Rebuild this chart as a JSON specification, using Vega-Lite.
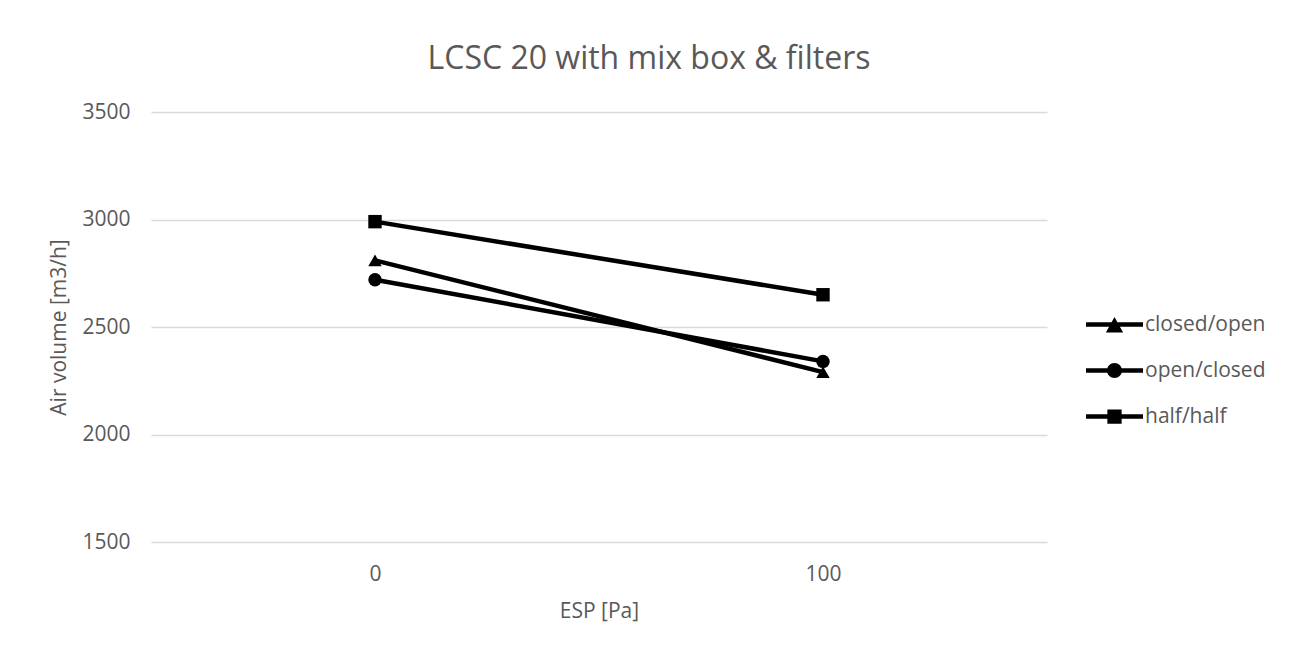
{
  "$schema": "https://vega.github.io/schema/vega-lite/v6.json",
  "width": 896,
  "height": 430,
  "autosize": {"type": "none"},
  "padding": {"left": 151, "top": 112, "right": 251, "bottom": 114},
  "background": "white",
  "title": {
    "text": "LCSC 20 with mix box & filters",
    "font": "Open Sans",
    "fontSize": 32,
    "fontWeight": "normal",
    "color": "#595959",
    "anchor": "middle",
    "frame": "group",
    "dx": 50,
    "offset": 25
  },
  "config": {"view": {"stroke": null}, "font": "Open Sans"},
  "data": {
    "values": [
      {"series": "closed/open", "esp": 0, "air": 2810},
      {"series": "closed/open", "esp": 100, "air": 2290},
      {"series": "open/closed", "esp": 0, "air": 2720},
      {"series": "open/closed", "esp": 100, "air": 2340},
      {"series": "half/half", "esp": 0, "air": 2990},
      {"series": "half/half", "esp": 100, "air": 2650}
    ]
  },
  "encoding": {
    "x": {
      "field": "esp",
      "type": "ordinal",
      "title": "ESP [Pa]",
      "scale": {"type": "point", "padding": 0.5},
      "axis": {
        "domain": false,
        "ticks": false,
        "grid": false,
        "labelAngle": 0,
        "labelFont": "Open Sans",
        "labelFontSize": 21,
        "labelColor": "#595959",
        "labelPadding": 21,
        "titleFont": "Open Sans",
        "titleFontSize": 21,
        "titleColor": "#595959",
        "titleFontWeight": "normal",
        "titlePadding": 16
      }
    },
    "y": {
      "field": "air",
      "type": "quantitative",
      "title": "Air volume [m3/h]",
      "scale": {"domain": [1500, 3500], "nice": false, "zero": false},
      "axis": {
        "values": [1500, 2000, 2500, 3000, 3500],
        "format": "d",
        "domain": false,
        "ticks": false,
        "grid": true,
        "gridColor": "#d9d9d9",
        "gridWidth": 1.3,
        "labelFont": "Open Sans",
        "labelFontSize": 21,
        "labelColor": "#595959",
        "labelPadding": 21,
        "titleFont": "Open Sans",
        "titleFontSize": 21,
        "titleColor": "#595959",
        "titleFontWeight": "normal",
        "titlePadding": 12
      }
    }
  },
  "layer": [
    {
      "mark": {"type": "line", "color": "black", "strokeWidth": 4.5},
      "encoding": {"detail": {"field": "series", "type": "nominal"}}
    },
    {
      "mark": {"type": "point", "filled": true, "color": "black", "opacity": 1, "size": 180},
      "encoding": {
        "shape": {
          "field": "series",
          "type": "nominal",
          "scale": {
            "domain": ["closed/open", "open/closed", "half/half"],
            "range": ["triangle-up", "circle", "square"]
          },
          "legend": null
        }
      }
    },
    {
      "mark": {"type": "point", "filled": true, "color": "black", "opacity": 0, "size": 225},
      "encoding": {
        "shape": {
          "field": "series",
          "type": "nominal",
          "scale": {
            "domain": ["closed/open", "open/closed", "half/half"],
            "range": [
              "M-3.8,-0.3H3.8V0.3H-3.8Z M0,-1L1.15,1.05L-1.15,1.05Z",
              "M-3.8,-0.3H3.8V0.3H-3.8Z M-1,0A1,1 0 1,1 1,0A1,1 0 1,1 -1,0Z",
              "M-3.8,-0.3H3.8V0.3H-3.8Z M-0.95,-0.95H0.95V0.95H-0.95Z"
            ]
          },
          "legend": {
            "title": null,
            "orient": "none",
            "legendX": 953,
            "legendY": 202,
            "padding": 0,
            "symbolSize": 225,
            "symbolOpacity": 1,
            "symbolFillColor": "black",
            "symbolStrokeColor": "black",
            "symbolStrokeWidth": 0,
            "labelFont": "Open Sans",
            "labelFontSize": 21,
            "labelColor": "#595959",
            "labelOffset": 20,
            "rowPadding": 24
          }
        }
      }
    }
  ],
  "resolve": {"scale": {"shape": "independent"}}
}
